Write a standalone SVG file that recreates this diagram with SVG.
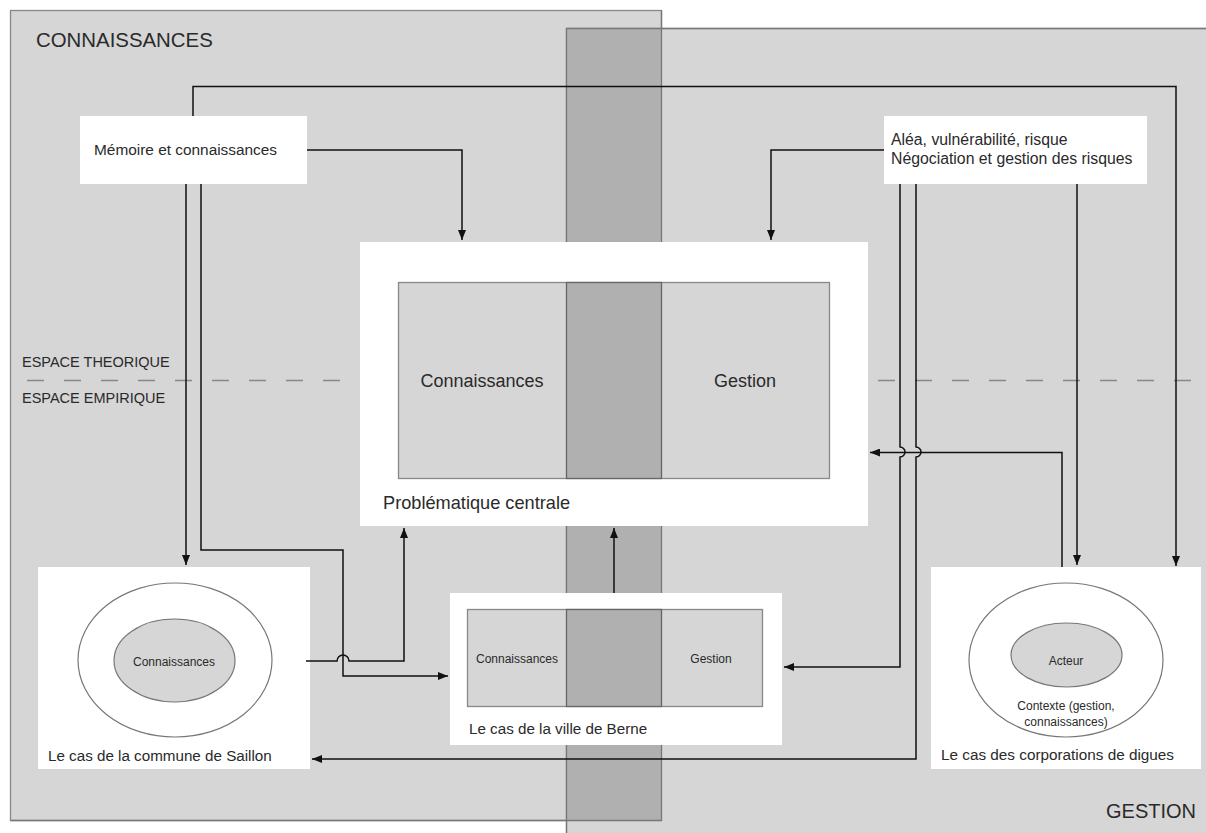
<svg xmlns="http://www.w3.org/2000/svg" width="1206" height="833" viewBox="0 0 1206 833">
<style>
text{font-family:"Liberation Sans",Arial,sans-serif;fill:#2a2a2a}
.zone{fill:#d6d6d6;stroke:#888;stroke-width:1.3}
.edge{fill:none;stroke:#777;stroke-width:1.3}
.box{fill:#fff}
.inner{fill:#d6d6d6;stroke:#888;stroke-width:1.3}
.mid{fill:#b0b0b0;stroke:#666;stroke-width:1.3}
.ell{fill:none;stroke:#777;stroke-width:1.2}
.ellf{fill:#d6d6d6;stroke:#777;stroke-width:1.2}
.c{fill:none;stroke:#111;stroke-width:1.5}
.ca{fill:none;stroke:#111;stroke-width:1.5;marker-end:url(#ah)}
</style>
<defs>
<marker id="ah" viewBox="0 0 10 8" refX="10" refY="4" markerWidth="10" markerHeight="8" markerUnits="userSpaceOnUse" orient="auto"><path d="M0,0 L10,4 L0,8 z" fill="#111"/></marker>
</defs>
<rect width="1206" height="833" fill="#fff"/>
<g id="zones">
<rect class="zone" x="10.5" y="10.5" width="651" height="810"/>
<rect class="zone" x="566.5" y="28.5" width="650" height="820"/>
<rect x="566.5" y="28.5" width="95" height="792" fill="#b0b0b0"/>
<path class="edge" d="M566.5,840 V28.5 H1216 M10.5,820.5 H661.5 V10.5"/>
<text x="36" y="47" font-size="20.4">CONNAISSANCES</text>
<text x="1196" y="818" font-size="20" text-anchor="end">GESTION</text>
</g>
<g id="espaces">
<line x1="27" y1="380.5" x2="1206" y2="380.5" stroke="#888" stroke-width="1.5" stroke-dasharray="17,20"/>
<text x="22" y="367" font-size="14.5">ESPACE THEORIQUE</text>
<text x="22" y="403" font-size="14.5">ESPACE EMPIRIQUE</text>
</g>
<g id="memoire">
<rect class="box" x="80" y="116" width="227" height="68"/>
<text x="94" y="155" font-size="15.4">Mémoire et connaissances</text>
</g>
<g id="alea">
<rect class="box" x="884" y="116" width="263" height="68"/>
<text x="891" y="145" font-size="15.8">Aléa, vulnérabilité, risque</text>
<text x="891" y="164" font-size="15.8">Négociation et gestion des risques</text>
</g>
<g id="centrale">
<rect class="box" x="360" y="242" width="508" height="284"/>
<rect class="inner" x="398.5" y="282.5" width="431" height="196"/>
<rect class="mid" x="566.5" y="282.5" width="95" height="196"/>
<text x="482" y="387" font-size="18" text-anchor="middle">Connaissances</text>
<text x="745" y="387" font-size="18" text-anchor="middle">Gestion</text>
<text x="383" y="509" font-size="18.2">Problématique centrale</text>
</g>
<g id="saillon">
<rect class="box" x="38" y="567" width="272" height="202"/>
<ellipse class="ell" cx="175" cy="660" rx="97" ry="77"/>
<ellipse class="ellf" cx="174.5" cy="660.5" rx="60.5" ry="41.5"/>
<text x="174" y="666" font-size="12" text-anchor="middle">Connaissances</text>
<text x="48" y="761" font-size="15.2">Le cas de la commune de Saillon</text>
</g>
<g id="berne">
<rect class="box" x="450" y="593" width="332" height="152"/>
<rect class="inner" x="467.5" y="609.5" width="295" height="97"/>
<rect class="mid" x="566.5" y="609.5" width="95" height="97"/>
<text x="517" y="663" font-size="12" text-anchor="middle">Connaissances</text>
<text x="711" y="663" font-size="12" text-anchor="middle">Gestion</text>
<text x="469" y="734" font-size="15.2">Le cas de la ville de Berne</text>
</g>
<g id="digues">
<rect class="box" x="931" y="567" width="270" height="202"/>
<ellipse class="ell" cx="1066" cy="660" rx="97" ry="77"/>
<ellipse class="ellf" cx="1066.5" cy="655" rx="55.5" ry="32"/>
<text x="1066" y="665" font-size="12" text-anchor="middle">Acteur</text>
<text x="1066" y="710" font-size="12" text-anchor="middle">Contexte (gestion,</text>
<text x="1066" y="726" font-size="12" text-anchor="middle">connaissances)</text>
<text x="941" y="760" font-size="15.3">Le cas des corporations de digues</text>
</g>
<g id="connectors">
<path class="ca" d="M193,116 V86.5 H1176 V566"/>
<path class="ca" d="M307,150 H462 V240"/>
<path class="ca" d="M884,150 H771 V240"/>
<path class="ca" d="M186,184 V565"/>
<path class="ca" d="M201,184 V550 H343 V676 H448"/>
<path class="ca" d="M306,661 H337 a6,6 0 0 1 12,0 H404 V528"/>
<path class="ca" d="M614,593 V528"/>
<path class="ca" d="M900,184 V447 a5,5 0 0 1 0,10 V667 H784"/>
<path class="ca" d="M916,184 V447 a5,5 0 0 1 0,10 V759 H312"/>
<path class="ca" d="M1077,184 V565"/>
<path class="ca" d="M1062,567 V452.5 H870"/>
</g>
</svg>
